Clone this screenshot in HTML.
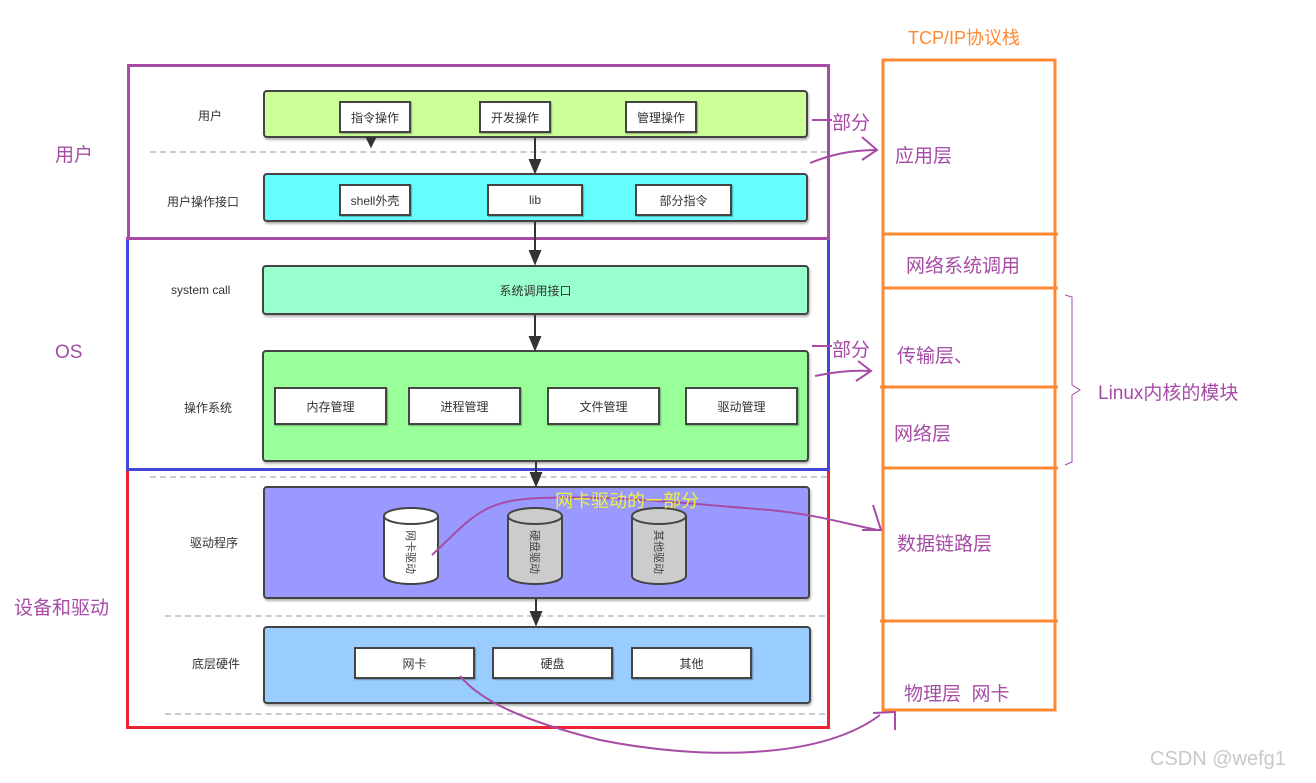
<!DOCTYPE html>
<html><head><meta charset="utf-8"><style>
body{margin:0;width:1316px;height:783px;background:#fff;position:relative;overflow:hidden;font-family:"Liberation Sans","Noto Sans CJK SC",sans-serif;}
.a{position:absolute;box-sizing:border-box;}
.bar{position:absolute;box-sizing:border-box;border:2px solid #444;border-radius:4px;box-shadow:1px 2px 2px rgba(0,0,0,.3);}
.bx{position:absolute;box-sizing:border-box;background:#fff;border:2px solid #444;font-size:12px;color:#333;display:flex;align-items:center;justify-content:center;box-shadow:1px 1px 1px rgba(0,0,0,.3);}
.lab{position:absolute;font-size:12px;color:#333;}
.dash{position:absolute;height:0;border-top:2px dashed #ccc;}
.pl{position:absolute;color:#a64ca6;font-size:19px;white-space:nowrap;}
.cyl{position:absolute;width:54px;height:78px;}
</style></head><body>
<!-- big frames -->
<div class="a" style="left:127px;top:64px;width:703px;height:176px;border:3px solid #a64ca6;"></div>
<div class="a" style="left:126px;top:237px;width:704px;height:234px;border:3px solid #4545d8;"></div>
<div class="a" style="left:126px;top:469px;width:704px;height:260px;border:3px solid #ee2233;border-top:none;"></div>
<div class="a" style="left:126px;top:237px;width:704px;height:3px;background:#a64ca6;"></div>
<div class="a" style="left:126px;top:468px;width:704px;height:3px;background:#4545d8;"></div>

<div class="dash" style="left:150px;top:151px;width:677px;"></div>
<div class="dash" style="left:150px;top:476px;width:677px;"></div>
<div class="dash" style="left:165px;top:615px;width:660px;"></div>
<div class="dash" style="left:165px;top:713px;width:660px;"></div>

<!-- labels -->
<div class="lab" style="left:198px;top:107px;">用户</div>
<div class="lab" style="left:167px;top:193px;">用户操作接口</div>
<div class="lab" style="left:171px;top:283px;">system call</div>
<div class="lab" style="left:184px;top:399px;">操作系统</div>
<div class="lab" style="left:190px;top:534px;">驱动程序</div>
<div class="lab" style="left:192px;top:655px;">底层硬件</div>

<!-- bars -->
<div class="bar" style="left:263px;top:90px;width:545px;height:48px;background:#ccff99;"></div>
<div class="bx" style="left:339px;top:101px;width:72px;height:32px;">指令操作</div>
<div class="bx" style="left:479px;top:101px;width:72px;height:32px;">开发操作</div>
<div class="bx" style="left:625px;top:101px;width:72px;height:32px;">管理操作</div>

<div class="bar" style="left:263px;top:173px;width:545px;height:49px;background:#66ffff;"></div>
<div class="bx" style="left:339px;top:184px;width:72px;height:32px;">shell外壳</div>
<div class="bx" style="left:487px;top:184px;width:96px;height:32px;">lib</div>
<div class="bx" style="left:635px;top:184px;width:97px;height:32px;">部分指令</div>

<div class="bar" style="left:262px;top:265px;width:547px;height:50px;background:#99ffcc;display:flex;align-items:center;justify-content:center;font-size:12px;color:#333;">系统调用接口</div>

<div class="bar" style="left:262px;top:350px;width:547px;height:112px;background:#99ff99;"></div>
<div class="bx" style="left:274px;top:387px;width:113px;height:38px;">内存管理</div>
<div class="bx" style="left:408px;top:387px;width:113px;height:38px;">进程管理</div>
<div class="bx" style="left:547px;top:387px;width:113px;height:38px;">文件管理</div>
<div class="bx" style="left:685px;top:387px;width:113px;height:38px;">驱动管理</div>

<div class="bar" style="left:263px;top:486px;width:547px;height:113px;background:#9999ff;"></div>
<div class="bar" style="left:263px;top:626px;width:548px;height:78px;background:#99ccff;"></div>
<div class="bx" style="left:354px;top:647px;width:121px;height:32px;">网卡</div>
<div class="bx" style="left:492px;top:647px;width:121px;height:32px;">硬盘</div>
<div class="bx" style="left:631px;top:647px;width:121px;height:32px;">其他</div>

<svg class="a" style="left:0;top:0;" width="1316" height="783">
<defs><marker id="ah" markerWidth="8" markerHeight="8" refX="4" refY="7" orient="auto" markerUnits="userSpaceOnUse"></marker></defs>
<g stroke="#333" stroke-width="2" fill="#333">
<line x1="535" y1="138" x2="535" y2="162"/><polygon points="530,160 540,160 535,172"/>
<polygon points="367,138 375,138 371,146"/>
<line x1="535" y1="222" x2="535" y2="252"/><polygon points="530,251 540,251 535,263"/>
<line x1="535" y1="315" x2="535" y2="338"/><polygon points="530,337 540,337 535,349"/>
<line x1="536" y1="462" x2="536" y2="475"/><polygon points="531,473 541,473 536,485"/>
<line x1="536" y1="599" x2="536" y2="613"/><polygon points="531,612 541,612 536,624"/>
</g>
<!-- cylinders -->
<g stroke="#444" stroke-width="2">
<path d="M384,516 v60 a27,8 0 0 0 54,0 v-60" fill="#fff"/><ellipse cx="411" cy="516" rx="27" ry="8" fill="#fff"/>
<path d="M508,516 v60 a27,8 0 0 0 54,0 v-60" fill="#ccc"/><ellipse cx="535" cy="516" rx="27" ry="8" fill="#ccc"/>
<path d="M632,516 v60 a27,8 0 0 0 54,0 v-60" fill="#ccc"/><ellipse cx="659" cy="516" rx="27" ry="8" fill="#ccc"/>
</g>
<g font-size="11" fill="#444" font-family="Liberation Sans,Noto Sans CJK SC,sans-serif">
<text transform="translate(407,530) rotate(90)">网卡驱动</text>
<text transform="translate(531,530) rotate(90)">硬盘驱动</text>
<text transform="translate(655,530) rotate(90)">其他驱动</text>
</g>
<!-- orange stack -->
<g stroke="#ff8833" stroke-width="3" fill="none">
<rect x="883" y="60" width="172" height="650"/>
<line x1="882" y1="234" x2="1058" y2="234"/>
<line x1="882" y1="288" x2="1058" y2="288"/>
<line x1="880" y1="387" x2="1058" y2="387"/>
<line x1="882" y1="468" x2="1058" y2="468"/>
<line x1="880" y1="621" x2="1058" y2="621"/>
</g>
<!-- purple handwriting -->
<g stroke="#a64ca6" stroke-width="2" fill="none">
<line x1="812" y1="120" x2="832" y2="120"/>
<path d="M810,163 C830,155 850,150 877,150"/><path d="M862,137 L877,150 L862,160"/>
<line x1="812" y1="346" x2="832" y2="346"/>
<path d="M815,376 C835,372 850,370 870,371"/><path d="M858,361 L871,371 L856,381"/>
<path d="M432,555 C470,520 480,500 540,498 C620,495 700,505 770,510 C820,515 850,525 878,530"/>
<path d="M873,505 L881,530 L862,530"/>
<path d="M460,676 C480,700 520,720 600,740 C700,760 820,760 880,715"/>
<path d="M873,713 L895,712 L895,730"/>
<path d="M1065,295 L1072,297 L1072,385 L1080,390 L1072,395 L1072,462 L1065,465" stroke-width="1"/>
</g>
</svg>
<div class="a" style="left:555px;top:487px;font-size:18px;color:#f0f040;">网卡驱动的一部分</div>

<div class="pl" style="left:55px;top:140px;">用户</div>
<div class="pl" style="left:55px;top:342px;">OS</div>
<div class="pl" style="left:14px;top:593px;">设备和驱动</div>
<div class="pl" style="left:832px;top:108px;">部分</div>
<div class="pl" style="left:832px;top:335px;">部分</div>
<div class="a" style="left:908px;top:24px;font-size:18px;color:#ff8833;">TCP/IP协议栈</div>
<div class="pl" style="left:895px;top:141px;">应用层</div>
<div class="pl" style="left:906px;top:251px;">网络系统调用</div>
<div class="pl" style="left:897px;top:341px;">传输层、</div>
<div class="pl" style="left:894px;top:419px;">网络层</div>
<div class="pl" style="left:897px;top:529px;">数据链路层</div>
<div class="pl" style="left:904px;top:679px;">物理层&nbsp; 网卡</div>
<div class="pl" style="left:1098px;top:378px;">Linux内核的模块</div>
<div class="a" style="left:1150px;top:748px;font-size:20px;color:#c8c8c8;">CSDN @wefg1</div>
</body></html>
